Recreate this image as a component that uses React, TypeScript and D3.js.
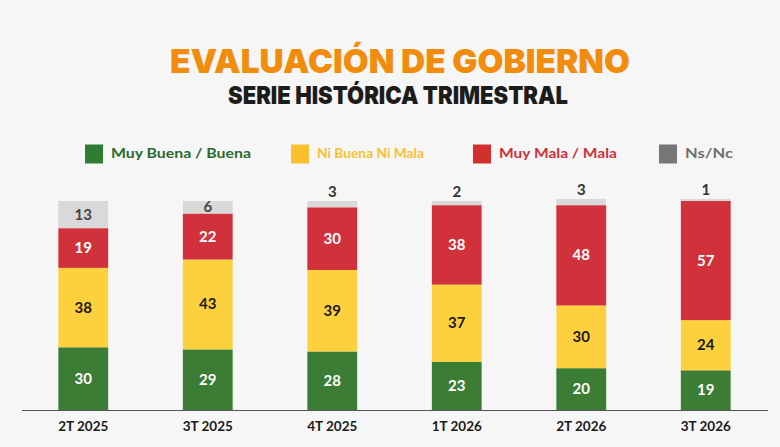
import React, { useEffect, useRef } from "react";
import * as d3 from "d3";

// Dimensions of the picture
const WIDTH = 780;
const HEIGHT = 447;

// Data
const categories: string[] = ["2T 2025", "3T 2025", "4T 2025", "1T 2026", "2T 2026", "3T 2026"];
const muyBuenaBuena: number[] = [30, 29, 28, 23, 20, 19];
const niBuenaNiMala: number[] = [38, 43, 39, 37, 30, 24];
const muyMalaMala: number[] = [19, 22, 30, 38, 48, 57];
const nsNc: number[] = [13, 6, 3, 2, 3, 1];

const seriesNames: string[] = ["Muy Buena / Buena", "Ni Buena Ni Mala", "Muy Mala / Mala", "Ns/Nc"];
const seriesKeys: string[] = ["buena", "ni", "mala", "ns"];

const barColors = ["#3b7d35", "#fdd13d", "#d1313a", "#d9d9d9"];
const legendBoxColors = ["#2f7d32", "#fbc02d", "#d32f2f", "#777777"];
const legendTextColors = ["#2b6a2e", "#f6c131", "#d0313a", "#707070"];
const valueColors = ["#ffffff", "#1a1a1a", "#ffffff", "#444444"];

const App: React.FC = () => {
  const ref = useRef<SVGSVGElement | null>(null);

  useEffect(() => {
    if (!ref.current) return;
    const svg = d3.select(ref.current);
    svg.selectAll("*").remove();

    // background
    svg.append("rect").attr("width", WIDTH).attr("height", HEIGHT).attr("fill", "#f6f6f6");

    // titles
    svg
      .append("text")
      .attr("x", 400)
      .attr("y", 72.5)
      .attr("text-anchor", "middle")
      .attr("font-family", "Inter, 'Open Sans', sans-serif")
      .attr("font-weight", 900)
      .attr("font-size", 33)
      .attr("fill", "#f28c0c")
      .attr("textLength", 460)
      .attr("lengthAdjust", "spacingAndGlyphs")
      .text("EVALUACIÓN DE GOBIERNO");

    svg
      .append("text")
      .attr("x", 398)
      .attr("y", 103.5)
      .attr("text-anchor", "middle")
      .attr("font-family", "Inter, 'Open Sans', sans-serif")
      .attr("font-weight", 900)
      .attr("font-size", 24.5)
      .attr("fill", "#1c1c1c")
      .attr("textLength", 340)
      .attr("lengthAdjust", "spacingAndGlyphs")
      .text("SERIE HISTÓRICA TRIMESTRAL");

    // legend
    const legendX = [85, 291, 473, 659];
    const legendW = [140, 107, 118, 48];
    const legend = svg.append("g");
    seriesNames.forEach((name, i) => {
      legend
        .append("rect")
        .attr("x", legendX[i])
        .attr("y", 144.5)
        .attr("width", 18)
        .attr("height", 19)
        .attr("fill", legendBoxColors[i]);
      legend
        .append("text")
        .attr("x", legendX[i] + 26)
        .attr("y", 158)
        .attr("font-family", "Lato, 'Open Sans', sans-serif")
        .attr("font-weight", 700)
        .attr("font-size", 14)
        .attr("fill", legendTextColors[i])
        .attr("textLength", legendW[i])
        .attr("lengthAdjust", "spacingAndGlyphs")
        .text(name);
    });

    // scales
    const x = d3
      .scaleBand<string>()
      .domain(categories)
      .range([21, 768])
      .paddingInner(0.6)
      .paddingOuter(0.3);

    const y = d3.scaleLinear().domain([0, 100]).range([410, 201]);

    const rows = categories.map((c, i) => ({
      cat: c,
      buena: muyBuenaBuena[i],
      ni: niBuenaNiMala[i],
      mala: muyMalaMala[i],
      ns: nsNc[i],
    }));

    const stacked = d3.stack<any>().keys(seriesKeys)(rows);

    stacked.forEach((layer, li) => {
      const g = svg.append("g");
      g.selectAll("rect")
        .data(layer)
        .enter()
        .append("rect")
        .attr("x", (d) => x(d.data.cat) || 0)
        .attr("y", (d) => y(d[1]))
        .attr("width", x.bandwidth())
        .attr("height", (d) => y(d[0]) - y(d[1]))
        .attr("fill", barColors[li]);

      // values: small ones go above the bar
      g.selectAll("text")
        .data(layer)
        .enter()
        .append("text")
        .attr("x", (d) => (x(d.data.cat) || 0) + x.bandwidth() / 2)
        .attr("y", (d) => {
          const v = d[1] - d[0];
          if (v < 5) return y(d[1]) - 4;
          return (y(d[0]) + y(d[1])) / 2 + 5;
        })
        .attr("text-anchor", "middle")
        .attr("font-family", "Lato, 'Open Sans', sans-serif")
        .attr("font-weight", 700)
        .attr("font-size", 15)
        .attr("fill", (d) => (d[1] - d[0] < 5 ? "#333333" : valueColors[li]))
        .text((d) => String(d[1] - d[0]));
    });

    // baseline
    svg
      .append("line")
      .attr("x1", 22)
      .attr("x2", 768)
      .attr("y1", y(0) + 0.5)
      .attr("y2", y(0) + 0.5)
      .attr("stroke", "#555555")
      .attr("stroke-width", 1);

    // category labels
    svg
      .append("g")
      .selectAll("text")
      .data(categories)
      .enter()
      .append("text")
      .attr("x", (d) => (x(d) || 0) + x.bandwidth() / 2)
      .attr("y", 431)
      .attr("text-anchor", "middle")
      .attr("font-family", "Lato, 'Open Sans', sans-serif")
      .attr("font-weight", 700)
      .attr("font-size", 13.5)
      .attr("fill", "#1a1a1a")
      .text((d) => d);
  }, []);

  return (
    <svg
      ref={ref}
      width={WIDTH}
      height={HEIGHT}
      style={{ position: "absolute", left: 0, top: 0, display: "block" }}
    />
  );
};

export default App;
